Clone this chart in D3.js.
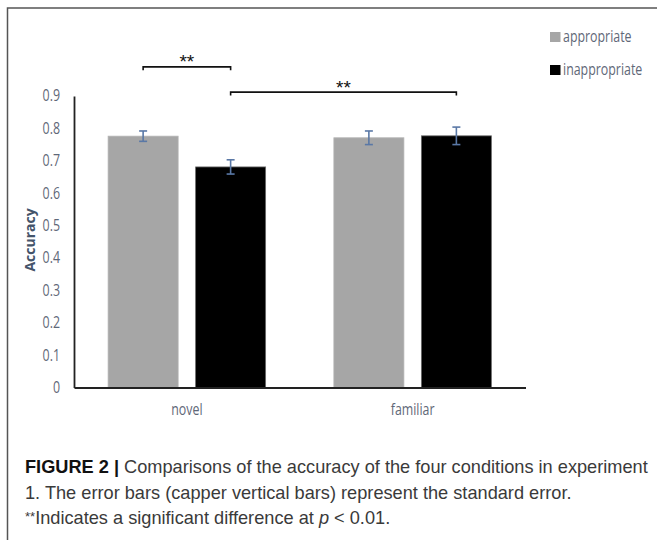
<!DOCTYPE html>
<html>
<head>
<meta charset="utf-8">
<script src="https://cdn.jsdelivr.net/npm/d3@7"></script>
<style>
  html, body { margin: 0; padding: 0; background: #fff; }
  svg { display: block; }
</style>
</head>
<body>
<script>
// ---- data ----
const categories = ["novel", "familiar"];
const seriesNames = ["appropriate", "inappropriate"];
const appropriateValues = [0.776, 0.771];
const inappropriateValues = [0.681, 0.777];
const appropriateErrors = [0.016, 0.021];
const inappropriateErrors = [0.022, 0.027];
const yTicks = [0, 0.1, 0.2, 0.3, 0.4, 0.5, 0.6, 0.7, 0.8, 0.9];
const significance = [
  { from: ["novel", "appropriate"], to: ["novel", "inappropriate"], level: 0.99, label: "**" },
  { from: ["novel", "inappropriate"], to: ["familiar", "inappropriate"], level: 0.912, label: "**" }
];
const seriesColors = ["#a6a6a6", "#000000"];

const W = 657, H = 540;
const svg = d3.select("body").append("svg").attr("width", W).attr("height", H);

// frame
svg.append("rect").attr("x", 7.5).attr("y", 8).attr("width", 700).attr("height", 600)
  .attr("fill", "none").attr("stroke", "#555").attr("stroke-width", 1.5);

const plot = { left: 74, right: 525.5, top: 96, bottom: 387.5 };
const uiFont = "'Open Sans', sans-serif";
const SX = 0.8;

// condense a text element horizontally (emulates a narrow UI font)
function condense(sel, sx) {
  sel.each(function () {
    const t = d3.select(this);
    const x = +(t.attr("x") || 0), yv = +(t.attr("y") || 0);
    t.attr("x", 0).attr("y", 0)
      .attr("transform", `translate(${x},${yv}) scale(${sx},1)`);
  });
}

const x0 = d3.scaleBand().domain(categories).range([plot.left, plot.right]).padding(0);
const x1 = d3.scaleBand().domain(seriesNames).range([0, x0.bandwidth()])
  .paddingInner(0.2).paddingOuter(0.39);
const y = d3.scaleLinear().domain([0, 0.9]).range([plot.bottom, plot.top]);

const rows = categories.map((c, i) => ({
  cat: c,
  vals: [
    { s: seriesNames[0], v: appropriateValues[i], e: appropriateErrors[i] },
    { s: seriesNames[1], v: inappropriateValues[i], e: inappropriateErrors[i] }
  ]
}));

// bars
const g = svg.append("g");
rows.forEach(r => {
  const gg = g.append("g").attr("transform", `translate(${x0(r.cat)},0)`);
  gg.selectAll("rect").data(r.vals).join("rect")
    .attr("x", d => x1(d.s))
    .attr("y", d => y(d.v))
    .attr("width", x1.bandwidth())
    .attr("height", d => y(0) - y(d.v))
    .attr("fill", (d, i) => seriesColors[i])
    .attr("stroke", (d, i) => i === 0 ? "#b4b4b4" : "#6a6a6a")
    .attr("stroke-width", 0.8);
  const cx = d => x1(d.s) + x1.bandwidth() / 2;
  const eb = gg.selectAll("g.err").data(r.vals).join("g").attr("class", "err")
    .attr("stroke", "#5a78a6").attr("stroke-width", 1.6).attr("fill", "none");
  eb.append("line").attr("x1", cx).attr("x2", cx)
    .attr("y1", d => y(d.v + d.e)).attr("y2", d => y(d.v - d.e));
  eb.append("line").attr("x1", d => cx(d) - 4).attr("x2", d => cx(d) + 4)
    .attr("y1", d => y(d.v + d.e)).attr("y2", d => y(d.v + d.e));
  eb.append("line").attr("x1", d => cx(d) - 4).attr("x2", d => cx(d) + 4)
    .attr("y1", d => y(d.v - d.e)).attr("y2", d => y(d.v - d.e));
});

// y axis
const yAxis = d3.axisLeft(y).tickValues(yTicks).tickSize(0).tickPadding(14)
  .tickFormat(d => d === 0 ? "0" : d3.format(".1f")(d));
const ya = svg.append("g").attr("transform", `translate(${plot.left},0)`).call(yAxis);
ya.select(".domain").attr("stroke", "#222").attr("stroke-width", 1.8);
ya.selectAll("text").attr("font-family", uiFont).attr("font-size", 15.5).attr("fill", "#5f6878")
  .call(condense, SX);

// x axis
const xAxis = d3.axisBottom(x0).tickSize(0).tickPadding(16);
const xa = svg.append("g").attr("transform", `translate(0,${plot.bottom})`).call(xAxis);
xa.select(".domain").attr("stroke", "#222").attr("stroke-width", 1.8);
xa.selectAll("text").attr("font-family", uiFont).attr("font-size", 15.5).attr("fill", "#5f6878")
  .call(condense, SX);

// y label
svg.append("text").attr("transform", `translate(35,240) rotate(-90)`)
  .attr("text-anchor", "middle").attr("font-family", uiFont)
  .attr("font-weight", "bold").attr("font-size", 14).attr("fill", "#44546a")
  .text("Accuracy");

// significance brackets
const center = (p) => x0(p[0]) + x1(p[1]) + x1.bandwidth() / 2;
significance.forEach(s => {
  const xa1 = center(s.from), xb = center(s.to), yy = y(s.level);
  svg.append("path").attr("d", `M${xa1},${yy + 3.5}V${yy}H${xb}V${yy + 3.5}`)
    .attr("fill", "none").attr("stroke", "#111").attr("stroke-width", 1.6);
  svg.append("text").attr("x", (xa1 + xb) / 2).attr("y", yy + 1.5)
    .attr("text-anchor", "middle").attr("font-family", "'Liberation Sans', Arial, sans-serif")
    .attr("font-size", 19).attr("fill", "#111").text(s.label);
});

// legend
const lg = svg.append("g").attr("transform", "translate(550,0)");
seriesNames.forEach((s, i) => {
  const yy = 32 + i * 33;
  lg.append("rect").attr("x", 0).attr("y", yy).attr("width", 10.5).attr("height", 10)
    .attr("fill", seriesColors[i]);
  lg.append("text").attr("x", 13).attr("y", yy + 9.5)
    .attr("font-family", uiFont).attr("font-size", 15.5).attr("fill", "#5f6878").text(s)
    .call(condense, SX);
});

// caption
const cap = svg.append("g").attr("font-family", "'Liberation Sans', Arial, sans-serif")
  .attr("font-size", 18.2).attr("fill", "#3a3a3a");
const l1 = cap.append("text").attr("x", 25).attr("y", 473);
l1.append("tspan").attr("font-weight", "bold").attr("fill", "#111").text("FIGURE 2 | ");
l1.append("tspan").text("Comparisons of the accuracy of the four conditions in experiment");
cap.append("text").attr("x", 25).attr("y", 499)
  .text("1. The error bars (capper vertical bars) represent the standard error.");
const l3 = cap.append("text").attr("x", 25).attr("y", 524);
l3.append("tspan").attr("font-size", 13).attr("dy", -3).text("**");
l3.append("tspan").attr("dy", 3).text("Indicates a significant difference at ");
l3.append("tspan").attr("font-style", "italic").text("p");
l3.append("tspan").text(" < 0.01.");
</script>
</body>
</html>
